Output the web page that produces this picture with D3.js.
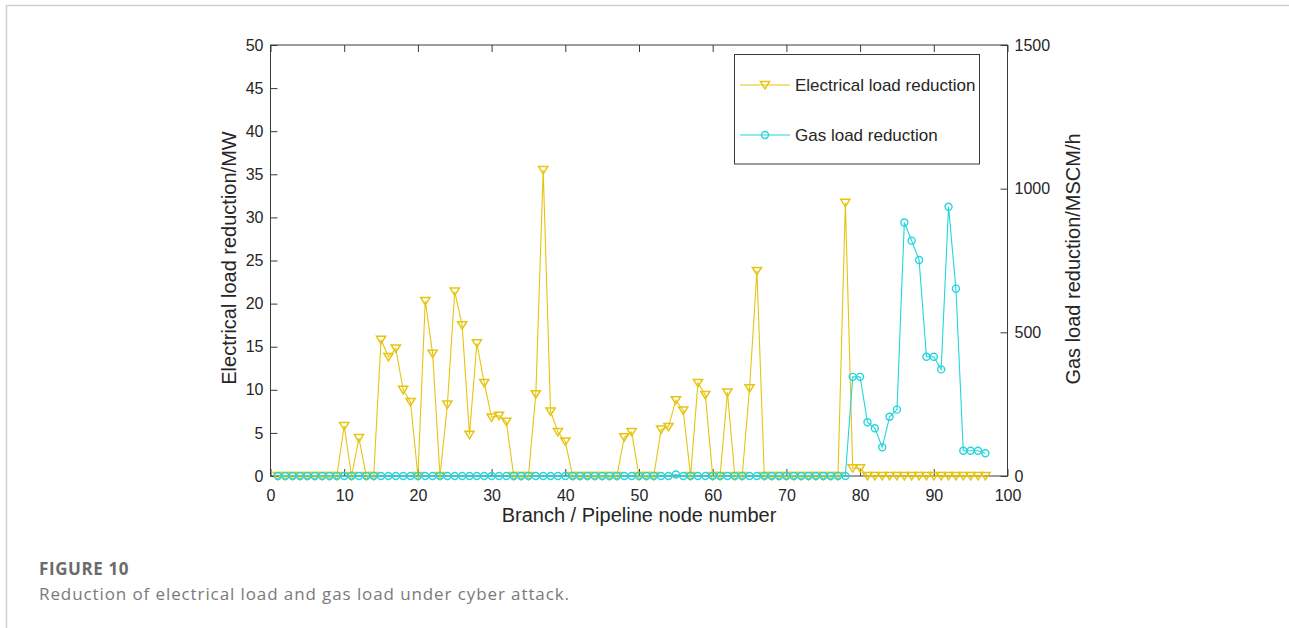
<!DOCTYPE html>
<html>
<head>
<meta charset="utf-8">
<script src="https://cdn.jsdelivr.net/npm/d3@7"></script>
<style>
  html, body { margin: 0; padding: 0; background: #fff; }
  svg { display: block; }
</style>
</head>
<body>
<svg id="chart" width="1289" height="628"></svg>
<script>
// Branch / pipeline node numbers
const nodeNumbers = [
  1,2,3,4,5,6,7,8,9,10,
  11,12,13,14,15,16,17,18,19,20,
  21,22,23,24,25,26,27,28,29,30,
  31,32,33,34,35,36,37,38,39,40,
  41,42,43,44,45,46,47,48,49,50,
  51,52,53,54,55,56,57,58,59,60,
  61,62,63,64,65,66,67,68,69,70,
  71,72,73,74,75,76,77,78,79,80,
  81,82,83,84,85,86,87,88,89,90,
  91,92,93,94,95,96,97
];

// Electrical load reduction (MW)
const electricalReduction = [
  0,0,0,0,0,0,0,0,0,5.8,
  0,4.4,0,0,15.8,13.8,14.8,10.0,8.6,0,
  20.3,14.2,0,8.3,21.4,17.5,4.8,15.4,10.8,6.8,
  7.0,6.3,0,0,0,9.5,35.5,7.5,5.1,4.0,
  0,0,0,0,0,0,0,4.5,5.1,0,
  0,0,5.4,5.7,8.8,7.6,0,10.8,9.4,0,
  0,9.7,0,0,10.2,23.8,0,0,0,0,
  0,0,0,0,0,0,0,31.7,0.9,0.9,
  0,0,0,0,0,0,0,0,0,0,
  0,0,0,0,0,0,0
];

// Gas load reduction (MSCM/h)
const gasReduction = [
  0,0,0,0,0,0,0,0,0,0,
  0,0,0,0,0,0,0,0,0,0,
  0,0,0,0,0,0,0,0,0,0,
  0,0,0,0,0,0,0,0,0,0,
  0,0,0,0,0,0,0,0,0,0,
  0,0,0,0,5,0,0,0,0,0,
  0,0,0,0,0,0,0,0,0,0,
  0,0,0,0,0,0,0,0,345,345,
  187,166,100,206,231,882,819,752,415,415,
  371,937,652,88,88,88,79
];

const xTicks = [0,10,20,30,40,50,60,70,80,90,100];
const leftTicks = [0,5,10,15,20,25,30,35,40,45,50];
const rightTicks = [0,500,1000,1500];

const seriesNames = ["Electrical load reduction", "Gas load reduction"];
const yellow = "#e6c510";
const cyan = "#22d6dc";
const axisColor = "#3a3a3a";
const textColor = "#262626";

const svg = d3.select("#chart");

// Card frame (top and left edges)
svg.append("line").attr("x1", 6).attr("x2", 1289).attr("y1", 5.5).attr("y2", 5.5)
  .attr("stroke", "#cfcfcf").attr("stroke-width", 1.5);
svg.append("line").attr("x1", 6.5).attr("x2", 6.5).attr("y1", 5).attr("y2", 628)
  .attr("stroke", "#cfcfcf").attr("stroke-width", 1.5);

const plot = { left: 270.5, right: 1007.5, top: 45, bottom: 476 };

const x = d3.scaleLinear().domain([0, 100]).range([plot.left, plot.right]);
const yL = d3.scaleLinear().domain([0, 50]).range([plot.bottom, plot.top]);
const yR = d3.scaleLinear().domain([0, 1500]).range([plot.bottom, plot.top]);

const tickLen = 7;
const fontFamily = "Liberation Sans, Arial, sans-serif";
const fmt = d3.format("d");

function styleAxis(g) {
  g.attr("font-family", fontFamily).attr("font-size", 16);
  g.select(".domain").remove();
  g.selectAll(".tick line").attr("stroke", axisColor).attr("stroke-width", 1);
  g.selectAll(".tick text").attr("fill", textColor);
}

// Bottom axis (ticks point inward)
svg.append("g").attr("transform", `translate(0,${plot.bottom})`)
  .call(d3.axisBottom(x).tickValues(xTicks).tickFormat(fmt).tickSizeInner(-tickLen).tickSizeOuter(0).tickPadding(14))
  .call(styleAxis);

// Top axis ticks mirrored
svg.append("g").attr("transform", `translate(0,${plot.top})`)
  .call(d3.axisTop(x).tickValues(xTicks).tickSizeInner(-tickLen).tickSizeOuter(0).tickFormat(""))
  .call(styleAxis);

// Left axis
svg.append("g").attr("transform", `translate(${plot.left},0)`)
  .call(d3.axisLeft(yL).tickValues(leftTicks).tickFormat(fmt).tickSizeInner(-tickLen).tickSizeOuter(0).tickPadding(7))
  .call(styleAxis);

// Right axis
svg.append("g").attr("transform", `translate(${plot.right},0)`)
  .call(d3.axisRight(yR).tickValues(rightTicks).tickFormat(fmt).tickSizeInner(-tickLen).tickSizeOuter(0).tickPadding(7))
  .call(styleAxis);

// Axes box
svg.append("rect")
  .attr("x", plot.left).attr("y", plot.top)
  .attr("width", plot.right - plot.left).attr("height", plot.bottom - plot.top)
  .attr("fill", "none").attr("stroke", axisColor).attr("stroke-width", 1);

// Axis titles
svg.append("text")
  .attr("x", (plot.left + plot.right) / 2).attr("y", 522)
  .attr("text-anchor", "middle").attr("fill", textColor)
  .attr("font-family", fontFamily).attr("font-size", 20)
  .text("Branch / Pipeline node number");

svg.append("text")
  .attr("transform", "translate(236,258) rotate(-90)")
  .attr("text-anchor", "middle").attr("fill", textColor)
  .attr("font-family", fontFamily).attr("font-size", 20)
  .text("Electrical load reduction/MW");

svg.append("text")
  .attr("transform", "translate(1080,259) rotate(-90)")
  .attr("text-anchor", "middle").attr("fill", textColor)
  .attr("font-family", fontFamily).attr("font-size", 20)
  .text("Gas load reduction/MSCM/h");

// Marker shapes
const triSize = 4.6;
function triangleDown(cx, cy) {
  return `M${cx - triSize},${cy - triSize * 0.75}L${cx + triSize},${cy - triSize * 0.75}L${cx},${cy + triSize * 0.85}Z`;
}

const elecData = nodeNumbers.map((n, i) => ({ n, v: electricalReduction[i] }));
const gasData = nodeNumbers.map((n, i) => ({ n, v: gasReduction[i] }));

// Electrical series
const elecLine = d3.line().x(d => x(d.n)).y(d => yL(d.v));
svg.append("path").datum(elecData)
  .attr("d", elecLine).attr("fill", "none")
  .attr("stroke", yellow).attr("stroke-width", 1.1);
svg.append("g").selectAll("path").data(elecData).join("path")
  .attr("d", d => triangleDown(x(d.n), yL(d.v)))
  .attr("fill", "none").attr("stroke", yellow).attr("stroke-width", 1.5);

// Gas series
const gasLine = d3.line().x(d => x(d.n)).y(d => yR(d.v));
svg.append("path").datum(gasData)
  .attr("d", gasLine).attr("fill", "none")
  .attr("stroke", cyan).attr("stroke-width", 1.1);
svg.append("g").selectAll("circle").data(gasData).join("circle")
  .attr("cx", d => x(d.n)).attr("cy", d => yR(d.v)).attr("r", 3.5)
  .attr("fill", "none").attr("stroke", cyan).attr("stroke-width", 1.4);

// Legend
const legend = svg.append("g");
legend.append("rect")
  .attr("x", 734.5).attr("y", 54.5).attr("width", 245).attr("height", 109.5)
  .attr("fill", "#fff").attr("stroke", axisColor).attr("stroke-width", 1);

const legendRows = [
  { name: seriesNames[0], color: yellow, y: 85, marker: "tri" },
  { name: seriesNames[1], color: cyan, y: 135, marker: "circle" }
];
legendRows.forEach(r => {
  legend.append("line").attr("x1", 740).attr("x2", 790).attr("y1", r.y).attr("y2", r.y)
    .attr("stroke", r.color).attr("stroke-width", 1.1);
  if (r.marker === "tri") {
    legend.append("path").attr("d", triangleDown(765, r.y))
      .attr("fill", "none").attr("stroke", r.color).attr("stroke-width", 1.5);
  } else {
    legend.append("circle").attr("cx", 765).attr("cy", r.y).attr("r", 3.5)
      .attr("fill", "none").attr("stroke", r.color).attr("stroke-width", 1.4);
  }
  legend.append("text").attr("x", 795).attr("y", r.y).attr("dy", "0.35em")
    .attr("fill", textColor)
    .attr("font-family", fontFamily).attr("font-size", 17)
    .text(r.name);
});

// Caption
svg.append("text").attr("x", 39).attr("y", 575)
  .attr("fill", "#6b6b6b")
  .attr("font-family", "Open Sans, sans-serif").attr("font-size", 17).attr("font-weight", 700)
  .attr("letter-spacing", 0.6)
  .text("FIGURE 10");
svg.append("text").attr("x", 39).attr("y", 600)
  .attr("fill", "#7a7a7a")
  .attr("font-family", "Open Sans, sans-serif").attr("font-size", 17)
  .attr("letter-spacing", 0.9)
  .text("Reduction of electrical load and gas load under cyber attack.");
</script>
</body>
</html>
